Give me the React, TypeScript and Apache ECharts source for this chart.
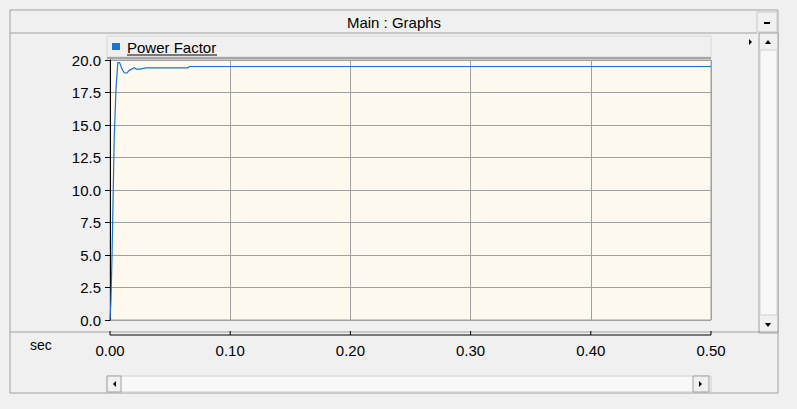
import React, { useEffect, useRef } from "react";
import * as echarts from "echarts";

const times = [0, 0.0008, 0.0017, 0.0025, 0.0035, 0.0045, 0.005, 0.0065, 0.008, 0.01, 0.012, 0.014, 0.016, 0.018, 0.02, 0.022, 0.025, 0.03, 0.065, 0.066, 0.5];
const powerFactor = [0, 1.5, 5, 9, 14, 16.5, 17.8, 19.8, 19.8, 19.3, 19.0, 19.0, 19.2, 19.3, 19.4, 19.3, 19.3, 19.4, 19.4, 19.5, 19.5];
const xTicks = [0, 0.1, 0.2, 0.3, 0.4, 0.5];
const seriesName = "Power Factor";
const title = "Main : Graphs";

export default function App() {
  const ref = useRef<HTMLDivElement>(null);
  useEffect(() => {
    const chart = echarts.init(ref.current!, null, { renderer: "svg" });
    const font = "Arial";
    const gl = 110, gr = 711;
    const tickMarks = xTicks.map((t) => {
      const x = gl + (t / 0.5) * (gr - gl);
      return { type: "line", z: 100, shape: { x1: x, y1: 331, x2: x, y2: 335 }, style: { stroke: "#000" } };
    });
    chart.setOption({
      animation: false,
      backgroundColor: "#f0f0f0",
      textStyle: { fontFamily: font },
      grid: { left: gl, right: 797 - gr, top: 60, bottom: 89, show: true, backgroundColor: "#fdf9ee", borderColor: "#a0a0a0", borderWidth: 1 },
      xAxis: {
        type: "value", min: 0, max: 0.5, interval: 0.1, offset: 15,
        axisLine: { show: false },
        axisTick: { show: false },
        axisLabel: { color: "#000", fontSize: 15, fontFamily: font, margin: 8, formatter: (v: number) => v.toFixed(2) },
        splitLine: { show: true, lineStyle: { color: "#a0a0a0", width: 1 } },
      },
      yAxis: {
        type: "value", min: 0, max: 20, interval: 2.5, offset: 3,
        axisLine: { show: true, lineStyle: { color: "#000" } },
        axisTick: { show: true, length: 5, lineStyle: { color: "#000" } },
        axisLabel: { color: "#000", fontSize: 15, fontFamily: font, margin: 6, formatter: (v: number) => v.toFixed(1) },
        splitLine: { show: true, lineStyle: { color: "#a0a0a0", width: 1 } },
      },
      series: [{
        type: "line", name: seriesName, showSymbol: false,
        data: times.map((t, i) => [t, powerFactor[i]]),
        lineStyle: { color: "#1874d0", width: 1.2 },
      }],
      graphic: [
        { type: "rect", shape: { x: 10, y: 10, width: 768, height: 383 }, style: { fill: "none", stroke: "#a0a0a0" }, silent: true },
        { type: "line", shape: { x1: 10, y1: 33, x2: 757, y2: 33 }, style: { stroke: "#a0a0a0" } },
        { type: "text", x: 394, y: 22, style: { text: title, font: `15px ${font}`, fill: "#000", align: "center", verticalAlign: "middle" } },
        { type: "rect", shape: { x: 757, y: 12, width: 20, height: 20 }, style: { fill: "#f0f0f0", stroke: "#c8c8c8" } },
        { type: "rect", shape: { x: 764, y: 22, width: 6, height: 2 }, style: { fill: "#000" } },
        { type: "rect", shape: { x: 759, y: 33, width: 19, height: 300 }, style: { fill: "#f0f0f0", stroke: "#a0a0a0" } },
        { type: "rect", shape: { x: 760, y: 50, width: 17, height: 265 }, style: { fill: "#f8f8f8", stroke: "#d0d0d0" } },
        { type: "polygon", shape: { points: [[765, 44], [771, 44], [768, 40]] }, style: { fill: "#000" } },
        { type: "polygon", shape: { points: [[765, 323], [771, 323], [768, 327]] }, style: { fill: "#000" } },
        { type: "polygon", shape: { points: [[749, 39], [749, 45], [752, 42]] }, style: { fill: "#000" } },
        { type: "line", shape: { x1: 10, y1: 332, x2: 778, y2: 332 }, style: { stroke: "#a0a0a0" } },
        { type: "line", z: 100, shape: { x1: gl, y1: 335, x2: gr, y2: 335 }, style: { stroke: "#000" } },
        ...tickMarks,
        { type: "rect", shape: { x: 107, y: 36, width: 604, height: 21 }, style: { fill: "#f0f0f0", stroke: "#d8d8d8" } },
        { type: "line", shape: { x1: 107, y1: 58, x2: 711, y2: 58 }, style: { stroke: "#909090", lineWidth: 1.5 } },
        { type: "rect", shape: { x: 112, y: 43, width: 8, height: 7 }, style: { fill: "#1874d0" } },
        { type: "text", x: 127, y: 47, style: { text: seriesName, font: `15px ${font}`, fill: "#000", verticalAlign: "middle" } },
        { type: "line", shape: { x1: 127, y1: 55, x2: 217, y2: 55 }, style: { stroke: "#000" } },
        { type: "text", x: 30, y: 345, style: { text: "sec", font: `14px ${font}`, fill: "#000", verticalAlign: "middle" } },
        { type: "rect", shape: { x: 107, y: 376, width: 604, height: 16 }, style: { fill: "#f8f8f8", stroke: "#d0d0d0" } },
        { type: "rect", shape: { x: 107, y: 376, width: 14, height: 16 }, style: { fill: "#f0f0f0", stroke: "#a0a0a0" } },
        { type: "rect", shape: { x: 693, y: 376, width: 16, height: 16 }, style: { fill: "#f0f0f0", stroke: "#a0a0a0" } },
        { type: "polygon", shape: { points: [[116, 381], [116, 387], [113, 384]] }, style: { fill: "#000" } },
        { type: "polygon", shape: { points: [[699, 381], [699, 387], [702, 384]] }, style: { fill: "#000" } },
      ],
    });
    return () => chart.dispose();
  }, []);
  return <div ref={ref} style={{ position: "fixed", left: 0, top: 0, width: 797, height: 409 }} />;
}
